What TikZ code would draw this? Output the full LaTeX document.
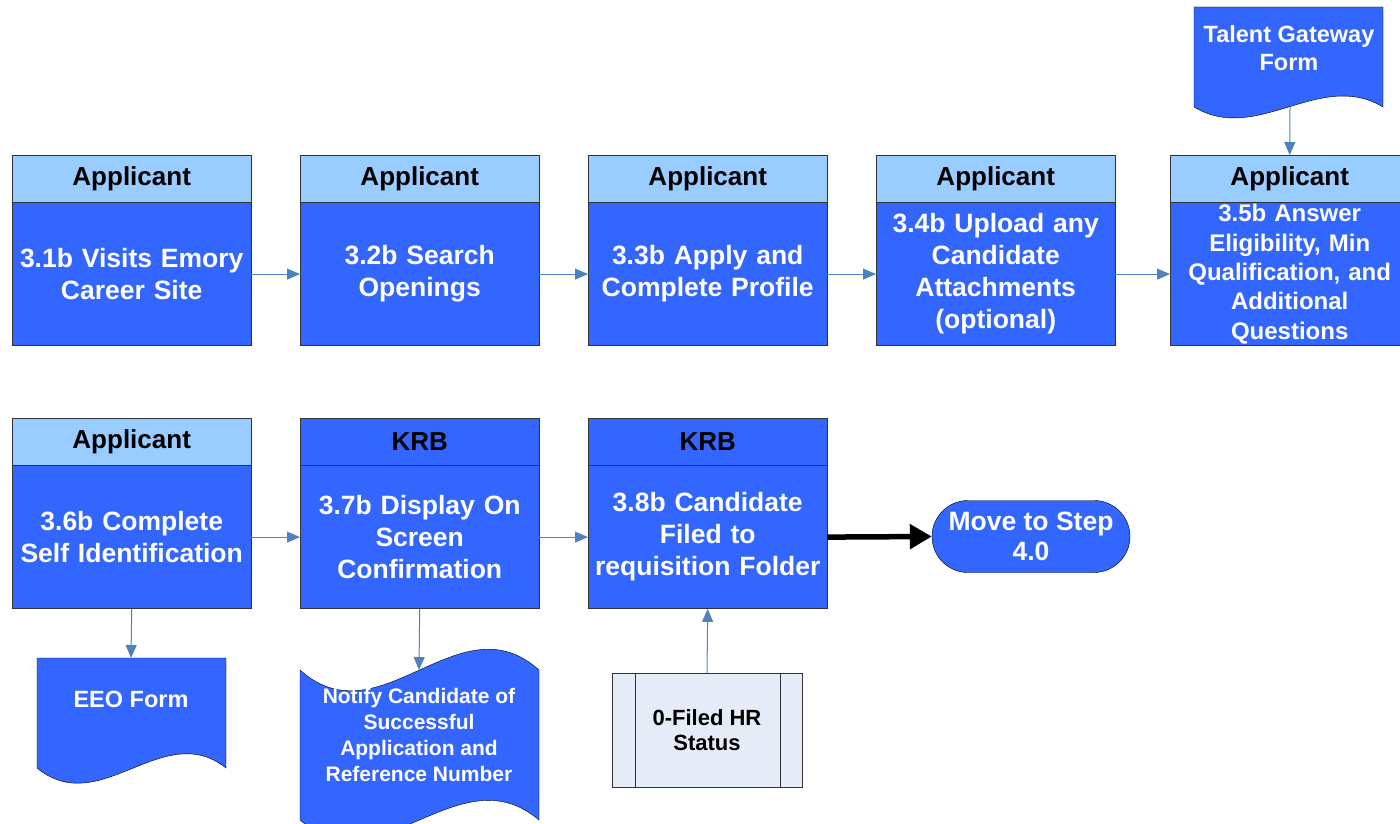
\documentclass[tikz,border=0pt]{standalone}
\usepackage{fontspec}
\setmainfont{Liberation Sans}
\usetikzlibrary{arrows.meta,shapes.misc}
\definecolor{stepblue}{RGB}{51,102,255}
\definecolor{lanelight}{RGB}{153,204,255}
\definecolor{linkblue}{RGB}{79,129,189}
\definecolor{procgray}{RGB}{230,236,247}
\tikzset{
  lane/.style={draw=black!80, fill=lanelight, minimum width=239pt, minimum height=47pt,
    inner sep=0pt, anchor=north west, font=\fontsize{26}{30}\selectfont\bfseries},
  lanedark/.style={lane, fill=stepblue},
  task/.style={draw=black!80, fill=stepblue, minimum width=239pt, minimum height=143pt,
    inner sep=0pt, anchor=north, text=white, text width=235pt, align=center,
    font=\fontsize{26.5}{32}\selectfont\bfseries},
  docshape/.style={draw=black, fill=stepblue},
  doctext/.style={text=white, align=center, inner sep=0pt},
  link/.style={draw=linkblue, line width=1pt, -{Triangle[length=13pt,width=11pt]}},
  bigflow/.style={draw=black, line width=5.5pt, -{Triangle[length=22pt,width=24pt]}}
}
\begin{document}
\begin{tikzpicture}[x=1pt, y=-1pt]
    \useasboundingbox (0,0) rectangle (1400,824);

    % first row
    \node[lane] (h1) at (12,155) {Applicant};
    \node[task] (t1) at (h1.south) {3.1b Visits Emory\\Career Site};
    \node[lane] (h2) at (300,155) {Applicant};
    \node[task] (t2) at (h2.south) {3.2b Search\\Openings};
    \node[lane] (h3) at (588,155) {Applicant};
    \node[task] (t3) at (h3.south) {3.3b Apply and\\Complete Profile};
    \node[lane] (h4) at (876,155) {Applicant};
    \node[task] (t4) at (h4.south) {3.4b Upload any\\Candidate\\Attachments\\(optional)};
    \node[lane] (h5) at (1170,155) {Applicant};
    \node[task, font=\fontsize{24}{29.3}\selectfont\bfseries] (t5) at (h5.south)
        {3.5b Answer\\Eligibility, Min\\Qualification, and\\Additional\\Questions};

    % second row
    \node[lane] (h6) at (12,418) {Applicant};
    \node[task] (t6) at (h6.south) {3.6b Complete\\Self Identification};
    \node[lanedark] (h7) at (300,418) {KRB};
    \node[task] (t7) at (h7.south) {3.7b Display On\\Screen\\Confirmation};
    \node[lanedark] (h8) at (588,418) {KRB};
    \node[task] (t8) at (h8.south) {3.8b Candidate\\Filed to\\requisition Folder};

    % documents
    \draw[docshape] (1194,7) -- (1383,7) -- (1383,107)
        .. controls (1320,69) and (1257,145) .. (1194,107) -- cycle;
    \node[doctext, font=\fontsize{23.5}{28}\selectfont\bfseries] (tgf) at (1289,48) {Talent Gateway\\Form};
    \coordinate (tgfbot) at (1290,107);

    \draw[docshape] (37,658) -- (226,658) -- (226,768)
        .. controls (163,718) and (100,820) .. (37,768) -- cycle;
    \node[doctext, font=\fontsize{23.5}{28}\selectfont\bfseries] (eeo) at (131,699) {EEO Form};
    \coordinate (eeotop) at (131,658);

    \draw[docshape] (300,670) .. controls (380,742) and (459,598) .. (539,670)
        -- (539,820) .. controls (459,752) and (380,888) .. (300,820) -- cycle;
    \node[doctext, font=\fontsize{21}{25.7}\selectfont\bfseries] (notify) at (419,735)
        {Notify Candidate of\\Successful\\Application and\\Reference Number};
    \coordinate (notifytop) at (419,670);

    % predefined process
    \node[draw=black!80, fill=procgray, minimum width=190pt, minimum height=114pt, inner sep=0pt,
        align=center, font=\fontsize{22}{24.5}\selectfont\bfseries] (hr) at (707,730) {0-Filed HR\\Status};
    \draw[black!80] ([xshift=23pt]hr.north west) -- ([xshift=23pt]hr.south west);
    \draw[black!80] ([xshift=-22pt]hr.north east) -- ([xshift=-22pt]hr.south east);

    % terminator
    \node[draw=black, fill=stepblue, rounded rectangle, minimum width=198pt, minimum height=72pt,
        inner sep=0pt, text=white, align=center, font=\fontsize{26.5}{30}\selectfont\bfseries]
        (next) at (1031,536.5) {Move to Step\\4.0};

    % connectors
    \draw[link] (t1.east) -- (t2.west);
    \draw[link] (t2.east) -- (t3.west);
    \draw[link] (t3.east) -- (t4.west);
    \draw[link] (t4.east) -- (t5.west);
    \draw[link] (tgfbot) -- (h5.north);
    \draw[link] (t6.east) -- (t7.west);
    \draw[link] (t7.east) -- (t8.west);
    \draw[link] (t6.south) -- (eeotop);
    \draw[link] (t7.south) -- (notifytop);
    \draw[link] (hr.north) -- (t8.south);
    \draw[bigflow] (t8.east) -- (next.west);
\end{tikzpicture}
\end{document}
